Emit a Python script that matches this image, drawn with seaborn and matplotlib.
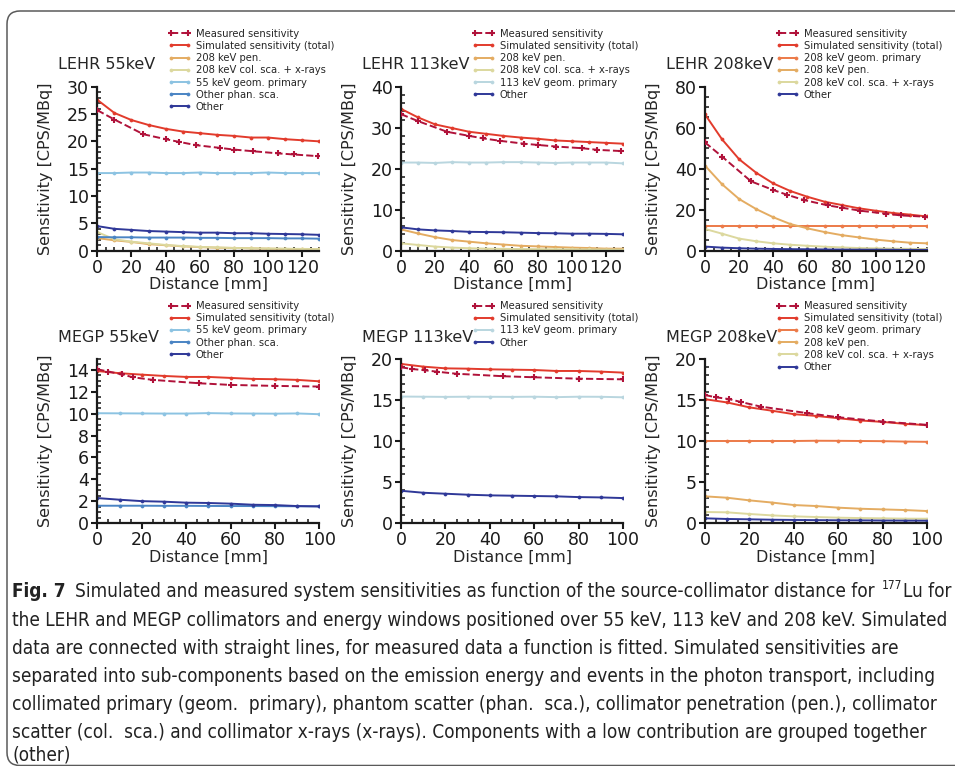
import matplotlib
matplotlib.use('Agg')
import matplotlib.pyplot as plt
from matplotlib import font_manager
from matplotlib.font_manager import FontProperties
from matplotlib.patches import FancyBboxPatch
from matplotlib.ticker import AutoMinorLocator, MultipleLocator
import seaborn as sns

# distances [mm]
dist_lehr = [0, 10, 20, 30, 40, 50, 60, 70, 80, 90, 100, 110, 120, 130]
dist_megp = [0, 10, 20, 30, 40, 50, 60, 70, 80, 90, 100]
meas_dist_lehr = [0, 10, 27, 40, 48, 58, 72, 80, 91, 106, 115, 129]
meas_dist_megp = [0, 5, 11, 16, 25, 46, 60, 80, 100]

# LEHR 55 keV
lehr55_measured = [25.7, 24.0, 21.3, 20.4, 19.9, 19.3, 18.8, 18.5, 18.2, 17.8, 17.6, 17.3]
lehr55_total = [27.6, 25.2, 23.9, 23.0, 22.3, 21.8, 21.5, 21.2, 21.0, 20.7, 20.7, 20.4, 20.2, 20.0]
lehr55_pen208 = [2.3, 1.9, 1.6, 1.2, 1.0, 0.8, 0.65, 0.55, 0.5, 0.42, 0.37, 0.32, 0.3, 0.27]
lehr55_colsca208 = [3.4, 2.1, 1.65, 1.35, 1.05, 0.85, 0.7, 0.6, 0.5, 0.45, 0.4, 0.37, 0.33, 0.3]
lehr55_geom55 = [14.2, 14.2, 14.3, 14.3, 14.2, 14.2, 14.3, 14.2, 14.2, 14.2, 14.3, 14.2, 14.2, 14.2]
lehr55_phansca = [2.5, 2.45, 2.45, 2.4, 2.4, 2.4, 2.35, 2.35, 2.3, 2.3, 2.3, 2.25, 2.25, 2.2]
lehr55_other = [4.5, 4.0, 3.8, 3.6, 3.5, 3.4, 3.3, 3.3, 3.2, 3.2, 3.1, 3.05, 3.0, 2.9]

# LEHR 113 keV
lehr113_measured = [33.3, 31.6, 29.0, 28.0, 27.4, 26.8, 26.1, 25.8, 25.4, 25.0, 24.6, 24.3]
lehr113_total = [34.6, 32.5, 30.8, 29.9, 29.0, 28.5, 28.0, 27.6, 27.3, 26.9, 26.7, 26.5, 26.3, 26.1]
lehr113_pen208 = [5.2, 4.2, 3.3, 2.6, 2.2, 1.8, 1.5, 1.2, 1.05, 0.9, 0.75, 0.65, 0.5, 0.5]
lehr113_colsca208 = [1.8, 1.4, 1.0, 0.75, 0.6, 0.5, 0.45, 0.4, 0.38, 0.35, 0.32, 0.3, 0.28, 0.27]
lehr113_geom113 = [21.5, 21.5, 21.4, 21.6, 21.5, 21.5, 21.6, 21.6, 21.5, 21.4, 21.5, 21.5, 21.5, 21.3]
lehr113_other = [5.7, 5.2, 4.95, 4.8, 4.6, 4.55, 4.5, 4.4, 4.3, 4.25, 4.15, 4.15, 4.1, 4.0]

# LEHR 208 keV
lehr208_measured = [52.8, 45.9, 33.8, 29.6, 27.3, 24.7, 22.1, 21.0, 19.5, 18.0, 17.2, 16.6]
lehr208_total = [66.5, 54.3, 44.6, 38.0, 32.8, 29.1, 26.3, 23.9, 22.3, 20.7, 19.5, 18.4, 17.6, 16.7]
lehr208_geom208 = [12.0, 12.0, 12.0, 12.0, 12.0, 12.0, 12.0, 12.0, 12.0, 12.0, 12.0, 12.0, 12.0, 12.0]
lehr208_pen208 = [41.5, 32.4, 25.2, 20.3, 16.3, 13.0, 10.9, 9.1, 7.6, 6.5, 5.4, 4.6, 3.9, 3.6]
lehr208_colsca208 = [10.6, 8.3, 5.9, 4.6, 3.6, 2.9, 2.4, 1.95, 1.6, 1.3, 1.15, 1.0, 0.9, 0.8]
lehr208_other = [2.0, 1.5, 1.2, 1.0, 0.85, 0.75, 0.7, 0.6, 0.55, 0.5, 0.5, 0.45, 0.4, 0.4]

# MEGP 55 keV
megp55_measured = [14.06, 13.85, 13.6, 13.33, 13.09, 12.78, 12.63, 12.54, 12.48]
megp55_total = [13.9, 13.7, 13.57, 13.45, 13.36, 13.36, 13.27, 13.18, 13.15, 13.09, 12.96]
megp55_geom55 = [10.04, 10.03, 10.02, 10.01, 10.01, 10.05, 10.02, 10.01, 10.0, 10.02, 9.95]
megp55_phansca = [1.58, 1.58, 1.58, 1.57, 1.57, 1.56, 1.55, 1.55, 1.54, 1.53, 1.52]
megp55_other = [2.28, 2.13, 2.0, 1.95, 1.86, 1.83, 1.77, 1.67, 1.64, 1.55, 1.52]

# MEGP 113 keV
megp113_measured = [18.99, 18.78, 18.62, 18.46, 18.2, 17.9, 17.77, 17.6, 17.52]
megp113_total = [19.4, 19.07, 18.86, 18.82, 18.74, 18.7, 18.66, 18.54, 18.54, 18.46, 18.34]
megp113_geom113 = [15.42, 15.4, 15.38, 15.4, 15.39, 15.38, 15.4, 15.35, 15.4, 15.39, 15.33]
megp113_other = [3.93, 3.69, 3.57, 3.45, 3.37, 3.33, 3.29, 3.25, 3.16, 3.12, 3.04]

# MEGP 208 keV
megp208_measured = [15.6, 15.33, 15.1, 14.77, 14.2, 13.4, 12.9, 12.37, 11.97]
megp208_total = [15.1, 14.7, 14.1, 13.7, 13.27, 13.06, 12.78, 12.5, 12.33, 12.09, 11.93]
megp208_geom208 = [10.0, 10.0, 10.0, 10.0, 10.0, 10.03, 10.02, 10.0, 9.98, 9.93, 9.9]
megp208_pen208 = [3.25, 3.08, 2.76, 2.5, 2.19, 2.07, 1.87, 1.74, 1.66, 1.58, 1.46]
megp208_colsca208 = [1.34, 1.3, 1.1, 0.93, 0.81, 0.73, 0.65, 0.6, 0.57, 0.53, 0.52]
megp208_other = [0.57, 0.49, 0.45, 0.4, 0.37, 0.35, 0.33, 0.32, 0.3, 0.29, 0.28]

colors = {
    'Measured sensitivity': '#b0123a',
    'Simulated sensitivity (total)': '#e23b2c',
    '208 keV geom. primary': '#ec7a48',
    '208 keV pen.': '#e4ac62',
    '208 keV col. sca. + x-rays': '#dcd89e',
    '55 keV geom. primary': '#8cc3e2',
    '113 keV geom. primary': '#b9d6df',
    'Other phan. sca.': '#4a84c4',
    'Other': '#2f3898',
}

panels = [
    ('LEHR 55keV', dist_lehr, meas_dist_lehr, lehr55_measured,
     [('Simulated sensitivity (total)', lehr55_total), ('208 keV pen.', lehr55_pen208),
      ('208 keV col. sca. + x-rays', lehr55_colsca208), ('55 keV geom. primary', lehr55_geom55),
      ('Other phan. sca.', lehr55_phansca), ('Other', lehr55_other)], 30, 5),
    ('LEHR 113keV', dist_lehr, meas_dist_lehr, lehr113_measured,
     [('Simulated sensitivity (total)', lehr113_total), ('208 keV pen.', lehr113_pen208),
      ('208 keV col. sca. + x-rays', lehr113_colsca208), ('113 keV geom. primary', lehr113_geom113),
      ('Other', lehr113_other)], 40, 10),
    ('LEHR 208keV', dist_lehr, meas_dist_lehr, lehr208_measured,
     [('Simulated sensitivity (total)', lehr208_total), ('208 keV geom. primary', lehr208_geom208),
      ('208 keV pen.', lehr208_pen208), ('208 keV col. sca. + x-rays', lehr208_colsca208),
      ('Other', lehr208_other)], 80, 20),
    ('MEGP 55keV', dist_megp, meas_dist_megp, megp55_measured,
     [('Simulated sensitivity (total)', megp55_total), ('55 keV geom. primary', megp55_geom55),
      ('Other phan. sca.', megp55_phansca), ('Other', megp55_other)], 15, 2),
    ('MEGP 113keV', dist_megp, meas_dist_megp, megp113_measured,
     [('Simulated sensitivity (total)', megp113_total), ('113 keV geom. primary', megp113_geom113),
      ('Other', megp113_other)], 20, 5),
    ('MEGP 208keV', dist_megp, meas_dist_megp, megp208_measured,
     [('Simulated sensitivity (total)', megp208_total), ('208 keV geom. primary', megp208_geom208),
      ('208 keV pen.', megp208_pen208), ('208 keV col. sca. + x-rays', megp208_colsca208),
      ('Other', megp208_other)], 20, 5),
]

caption_first = 'Simulated and measured system sensitivities as function of the source-collimator distance for '
caption_lines = [
    'the LEHR and MEGP collimators and energy windows positioned over 55 keV, 113 keV and 208 keV. Simulated',
    'data are connected with straight lines, for measured data a function is fitted. Simulated sensitivities are',
    'separated into sub-components based on the emission energy and events in the photon transport, including',
    'collimated primary (geom.  primary), phantom scatter (phan.  sca.), collimator penetration (pen.), collimator',
    'scatter (col.  sca.) and collimator x-rays (x-rays). Components with a low contribution are grouped together',
    '(other)',
]

sns.set_theme(style='ticks', rc={
    'axes.linewidth': 1.6,
    'axes.edgecolor': '#1a1a1a',
    'xtick.major.width': 1.5, 'ytick.major.width': 1.5,
    'xtick.minor.width': 1.2, 'ytick.minor.width': 1.2,
    'xtick.major.size': 4, 'ytick.major.size': 4,
    'xtick.minor.size': 3, 'ytick.minor.size': 3,
    'xtick.minor.visible': True, 'ytick.minor.visible': True,
})
plt.rcParams['font.family'] = ['DejaVu Sans']

W, H = 955, 766
fig = plt.figure(figsize=(W / 100, H / 100), dpi=100)

lefts = [97.3, 401, 705]
tops = [86.7, 359]
ax_w, ax_h = 222, 164

for i, (title, dist, mdist, meas, comps, ymax, ystep) in enumerate(panels):
    r, c = divmod(i, 3)
    ax = fig.add_axes([lefts[c] / W, 1 - (tops[r] + ax_h) / H, ax_w / W, ax_h / H])
    col = colors['Measured sensitivity']
    sns.lineplot(x=mdist, y=meas, ax=ax, color=col, linestyle='--', lw=1.4,
                 marker='+', markersize=4.5, mew=1.5, mec=col,
                 label='Measured sensitivity', zorder=5)
    for name, vals in comps:
        col = colors[name]
        sns.lineplot(x=dist, y=vals, ax=ax, color=col, lw=1.4, marker='o',
                     markersize=2.2, mec=col, mew=0.5, label=name)
    ax.set_xlim(0, dist[-1])
    ax.set_ylim(0, ymax)
    ax.xaxis.set_major_locator(MultipleLocator(20))
    ax.yaxis.set_major_locator(MultipleLocator(ystep))
    ax.xaxis.set_minor_locator(AutoMinorLocator())
    ax.yaxis.set_minor_locator(AutoMinorLocator())
    ax.tick_params(which='major', direction='out', labelsize=12.5, pad=2, colors='#1a1a1a')
    ax.tick_params(which='minor', direction='in')
    ax.set_xlabel('Distance [mm]', fontsize=11.5, labelpad=0)
    ax.set_ylabel('Sensitivity [CPS/MBq]', fontsize=11.5, labelpad=10)
    sns.despine(ax=ax)
    ax.text(-39 / ax_w, 1 + 22 / ax_h, title, transform=ax.transAxes,
            ha='left', va='center', fontsize=11.5)
    ax.legend(loc='upper left', bbox_to_anchor=(71 / ax_w, 1 + 58 / ax_h),
              frameon=False, fontsize=7.2, numpoints=2, handlelength=2.3,
              handletextpad=0.45, labelspacing=0.22, borderpad=0, borderaxespad=0)

# frame around the figure panel
frame = FancyBboxPatch((0.07, 0.005), 9.8, 7.545, boxstyle='round,pad=0,rounding_size=0.13',
                       transform=fig.dpi_scale_trans, fill=False, ec='#5a5a5a', lw=1.1)
fig.add_artist(frame)


# caption font: look for an installed narrow/condensed sans, regular and bold
def weight_num(w):
    if isinstance(w, (int, float)):
        return int(w)
    return {'ultralight': 200, 'light': 300, 'normal': 400, 'regular': 400, 'book': 400,
            'medium': 500, 'semibold': 600, 'demibold': 600, 'bold': 700,
            'heavy': 800, 'black': 900}.get(str(w).lower(), 400)


def find_narrow(target):
    best, best_score = None, None
    for f in font_manager.fontManager.ttflist:
        nm, st = f.name.lower(), str(f.stretch).lower()
        narrow = 'condensed' in st or 'narrow' in nm or 'condensed' in nm or 'narrow' in st
        if not narrow or f.style != 'normal' or 'mono' in nm or 'serif' in nm and 'sans' not in nm:
            continue
        score = abs(weight_num(f.weight) - target)
        if best_score is None or score < best_score:
            best, best_score = f, score
    return best


reg = find_narrow(400)
bold = find_narrow(700)
cap_reg = FontProperties(fname=reg.fname) if reg else FontProperties(family='DejaVu Sans')
cap_bold = FontProperties(fname=bold.fname) if bold else FontProperties(family='DejaVu Sans', weight='bold')

renderer = fig.canvas.get_renderer()


def width(t):
    return t.get_window_extent(renderer).width


probe = fig.text(0, 0, caption_lines[0], fontproperties=cap_reg, fontsize=12)
fs = 12 * 939 / width(probe)
probe.remove()
cap_reg.set_size(fs)
cap_bold.set_size(fs)

baselines = [597, 625.5, 654, 682, 710.5, 738.5, 760.5]
ink = '#222222'
x = 12
t = fig.text(x / W, 1 - baselines[0] / H, 'Fig. 7', fontproperties=cap_bold, va='baseline', color=ink)
x += width(t) + 9
t = fig.text(x / W, 1 - baselines[0] / H, caption_first, fontproperties=cap_reg, va='baseline', color=ink)
x += width(t) + 2
sup = cap_reg.copy()
sup.set_size(fs * 0.62)
t = fig.text(x / W, 1 - (baselines[0] - fs * 0.55) / H, '177', fontproperties=sup, va='baseline', color=ink)
x += width(t) + 1
fig.text(x / W, 1 - baselines[0] / H, 'Lu for', fontproperties=cap_reg, va='baseline', color=ink)
for line, yb in zip(caption_lines, baselines[1:]):
    fig.text(12 / W, 1 - yb / H, line, fontproperties=cap_reg, va='baseline', color=ink)

fig.savefig('out.png', dpi=100)
